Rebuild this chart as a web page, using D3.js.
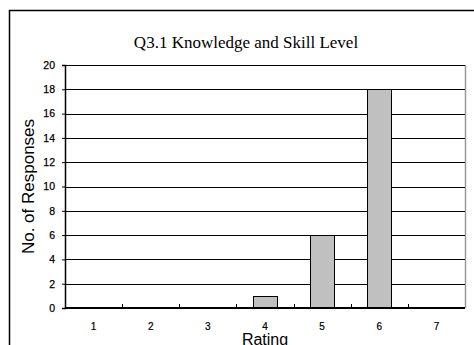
<!DOCTYPE html>
<html>
<head>
<meta charset="utf-8">
<script src="https://cdn.jsdelivr.net/npm/d3@7"></script>
<style>
  html, body { margin: 0; padding: 0; background: #fff; }
  svg { display: block; }
</style>
</head>
<body>
<svg id="chart" width="474" height="345"></svg>
<script>
// Ratings and number of responses for each
const categories = ["1", "2", "3", "4", "5", "6", "7"];
const responses = [0, 0, 0, 1, 6, 18, 0];
const yTicks = [0, 2, 4, 6, 8, 10, 12, 14, 16, 18, 20];
const title = "Q3.1 Knowledge and Skill Level";
const xTitle = "Rating";
const yTitle = "No. of Responses";

const svg = d3.select("#chart");
const plot = { left: 65, top: 65, right: 465, bottom: 308 };

// outer chart frame (runs off the right and bottom edges)
svg.append("rect")
  .attr("x", 9.5).attr("y", 10.5)
  .attr("width", 480).attr("height", 360)
  .attr("fill", "#fff")
  .attr("stroke", "#000").attr("stroke-width", 1.5);

const x = d3.scaleBand()
  .domain(categories)
  .range([plot.left, plot.right])
  .paddingInner(0.58)
  .paddingOuter(0.29);

const y = d3.scaleLinear()
  .domain([0, 20])
  .range([plot.bottom, plot.top]);

// plot area border on the right
svg.append("line")
  .attr("x1", plot.right + 0.5).attr("x2", plot.right + 0.5)
  .attr("y1", plot.top).attr("y2", plot.bottom)
  .attr("stroke", "#999").attr("stroke-width", 1.5);

// horizontal gridlines
svg.append("g")
  .selectAll("line")
  .data(yTicks.filter(d => d > 0))
  .join("line")
  .attr("x1", plot.left).attr("x2", plot.right)
  .attr("y1", d => Math.round(y(d)) + 0.5)
  .attr("y2", d => Math.round(y(d)) + 0.5)
  .attr("stroke", "#000").attr("stroke-width", 1);

// bars
svg.append("g")
  .selectAll("rect")
  .data(categories.map((c, i) => ({ c, v: responses[i] })).filter(d => d.v > 0))
  .join("rect")
  .attr("x", d => Math.round(x(d.c)) + 0.5)
  .attr("y", d => Math.round(y(d.v)) + 0.5)
  .attr("width", x.bandwidth())
  .attr("height", d => y(0) - Math.round(y(d.v)))
  .attr("fill", "#c0c0c0")
  .attr("stroke", "#000").attr("stroke-width", 1);

// y axis
const yAxis = d3.axisLeft(y)
  .tickValues(yTicks)
  .tickSize(3)
  .tickPadding(7)
  .tickFormat(d3.format("d"));
const gy = svg.append("g")
  .attr("transform", `translate(${plot.left},0)`)
  .call(yAxis);
gy.select(".domain").attr("stroke", "#000").attr("stroke-width", 1.5);
gy.selectAll(".tick line").attr("stroke", "#000");
gy.selectAll(".tick text")
  .attr("font-family", "'Liberation Sans', Arial, sans-serif")
  .attr("font-size", "10.5px")
  .attr("fill", "#000")
  .attr("stroke", "#000").attr("stroke-width", 0.25);

// x axis baseline with small upward ticks at category boundaries
svg.append("line")
  .attr("x1", plot.left).attr("x2", plot.right)
  .attr("y1", plot.bottom).attr("y2", plot.bottom)
  .attr("stroke", "#000").attr("stroke-width", 2);

const boundaries = d3.range(1, categories.length).map(i => plot.left + i * x.step());
svg.append("g")
  .selectAll("line")
  .data(boundaries)
  .join("line")
  .attr("x1", d => Math.round(d) + 0.5).attr("x2", d => Math.round(d) + 0.5)
  .attr("y1", plot.bottom).attr("y2", plot.bottom - 4)
  .attr("stroke", "#000").attr("stroke-width", 1);

// category labels
svg.append("g")
  .selectAll("text")
  .data(categories)
  .join("text")
  .attr("x", d => x(d) + x.bandwidth() / 2)
  .attr("y", 329.5)
  .attr("text-anchor", "middle")
  .attr("font-family", "'Liberation Sans', Arial, sans-serif")
  .attr("font-size", "10px")
  .attr("fill", "#000")
  .attr("stroke", "#000").attr("stroke-width", 0.2)
  .text(d => d);

// titles
svg.append("text")
  .attr("x", 246).attr("y", 48)
  .attr("text-anchor", "middle")
  .attr("font-family", "'Liberation Serif', 'Times New Roman', serif")
  .attr("font-size", "17px")
  .attr("fill", "#000")
  .text(title);

svg.append("text")
  .attr("x", (plot.left + plot.right) / 2).attr("y", 345)
  .attr("text-anchor", "middle")
  .attr("font-family", "'Liberation Sans', Arial, sans-serif")
  .attr("font-size", "16px")
  .attr("fill", "#000")
  .text(xTitle);

svg.append("text")
  .attr("transform", `translate(34,${(plot.top + plot.bottom) / 2}) rotate(-90)`)
  .attr("text-anchor", "middle")
  .attr("font-family", "'Liberation Sans', Arial, sans-serif")
  .attr("font-size", "17px")
  .attr("fill", "#000")
  .text(yTitle);
</script>
</body>
</html>
